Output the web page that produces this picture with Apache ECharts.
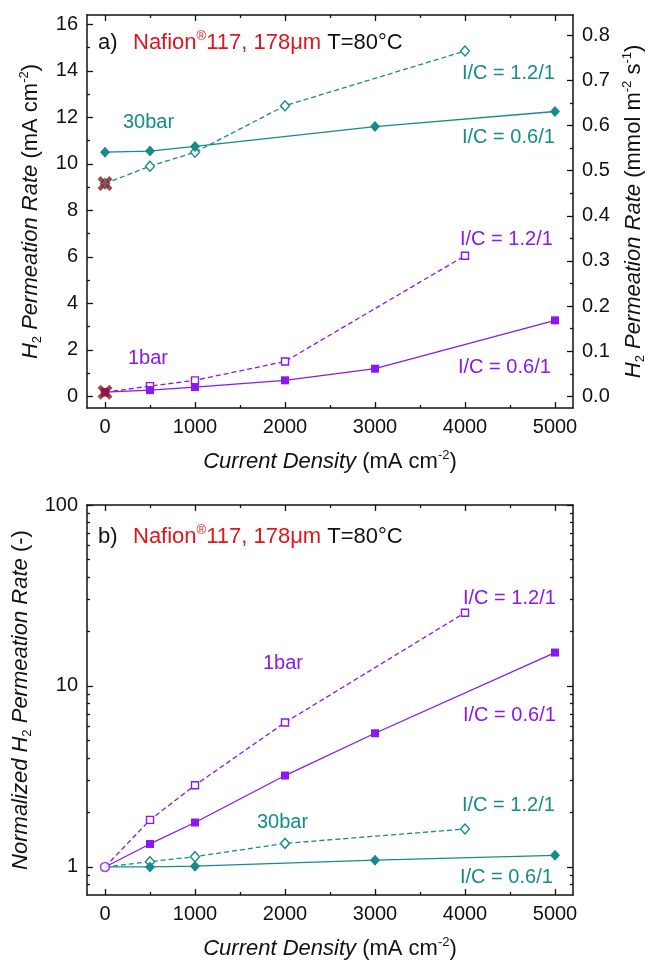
<!DOCTYPE html>
<html>
<head>
<meta charset="utf-8">
<script src="https://cdn.jsdelivr.net/npm/echarts@6/dist/echarts.min.js"></script>
<style>
  html, body { margin: 0; padding: 0; background: #fff; }
  #chart { width: 650px; height: 962px; }
</style>
</head>
<body>
<div id="chart"></div>
<script>
// ---- data -------------------------------------------------------------
// current density (mA cm^-2) of each measurement series
const xHigh06 = [0, 500, 1000, 3000, 5000];
const xHigh12 = [0, 500, 1000, 2000, 4000];
const xLow06  = [0, 500, 1000, 2000, 3000, 5000];
const xLow12  = [0, 500, 1000, 2000, 4000];

// absolute H2 permeation rate (mA cm^-2)
const rateHigh06 = [10.5, 10.55, 10.75, 11.6, 12.25];
const rateHigh12 = [9.15, 9.9, 10.5, 12.5, 14.85];
const rateLow06  = [0.18, 0.27, 0.4, 0.69, 1.19, 3.27];
const rateLow12  = [0.18, 0.44, 0.69, 1.5, 6.05];

// permeation at zero current (30 bar, 1 bar)
const xZero    = [0, 0];
const rateZero = [9.15, 0.18];

// permeation rate normalized to the zero-current value
const normHigh06 = [1, 1.0, 1.01, 1.09, 1.16];
const normHigh12 = [1, 1.07, 1.14, 1.35, 1.62];
const normLow06  = [1, 1.34, 1.76, 3.2, 5.48, 15.3];
const normLow12  = [1, 1.82, 2.83, 6.28, 25.4];

// tick values
const xTicks         = [0, 1000, 2000, 3000, 4000, 5000];
const xMinorTicks    = [500, 1500, 2500, 3500, 4500];
const rateTicks      = [0, 2, 4, 6, 8, 10, 12, 14, 16];
const rateMinorTicks = [1, 3, 5, 7, 9, 11, 13, 15];
const molTicks       = [0, 0.1, 0.2, 0.3, 0.4, 0.5, 0.6, 0.7, 0.8];
const molMinorTicks  = [0.05, 0.15, 0.25, 0.35, 0.45, 0.55, 0.65, 0.75];
const normTicks      = [1, 10, 100];
const normMinorTicks = [0.8, 0.9, 2, 3, 4, 5, 6, 7, 8, 9, 20, 30, 40, 50, 60, 70, 80, 90];

// ---- scales & styles ----------------------------------------------------
const X_MIN = -200, X_MAX = 5200;
const RATE_MIN = -0.5, RATE_MAX = 16.4;
const MOL_PER_MA = 0.0515;          // 1 mA cm^-2 of H2 in mmol m^-2 s^-1
const NORM_MIN = 0.7, NORM_MAX = 100;

const FONT = '"Liberation Sans", Arial, Helvetica, sans-serif';
const INK = '#111';
const TEAL = '#178a8a';
const VIOLET = '#8a18f0';
const RED = '#e3141c';
const CROSS = '#8b1b1b';

const frameLine = { show: true, onZero: false, lineStyle: { color: INK, width: 1.5 } };
const tickLine = { color: INK, width: 1.3 };
const tickFont = { fontSize: 20, color: INK, fontFamily: FONT };

const nameRich = {
  i:   { fontStyle: 'italic', fontSize: 22, fontFamily: FONT, color: INK, lineHeight: 26 },
  n:   { fontSize: 22, fontFamily: FONT, color: INK, lineHeight: 26 },
  sup: { fontSize: 13, fontFamily: FONT, color: INK, lineHeight: 13, verticalAlign: 'top' },
  sub: { fontSize: 13, fontFamily: FONT, color: INK, lineHeight: 13, verticalAlign: 'bottom' }
};
const nameStyle = { rich: nameRich, fontFamily: FONT, fontSize: 22, color: INK };

// one frame side = a labelled axis carrying major ticks + a bare axis for minor ticks
function side(grid, position, range, major, minor, extra) {
  const base = Object.assign({
    type: 'value', gridIndex: grid, position: position,
    min: range[0], max: range[1], splitLine: { show: false }
  }, extra.base || {});
  const main = Object.assign({}, base, {
    axisLine: frameLine,
    axisTick: { inside: true, length: 6, customValues: major, lineStyle: tickLine },
    axisLabel: extra.label
      ? Object.assign({ customValues: major, margin: 9 }, tickFont, extra.label)
      : { show: false }
  }, extra.name || {});
  const sub = Object.assign({}, base, {
    axisLine: { show: false, onZero: false },
    axisTick: { inside: true, length: 3, customValues: minor, lineStyle: tickLine },
    axisLabel: { show: false }
  });
  return [main, sub];
}

const xName = {
  name: '{i|Current Density}{n| (mA cm}{sup|-2}{n|)}',
  nameLocation: 'middle', nameGap: 41, nameTextStyle: nameStyle
};

const xAxes = [];
[0, 1].forEach(g => {
  xAxes.push(...side(g, 'bottom', [X_MIN, X_MAX], xTicks, xMinorTicks,
    { label: { formatter: v => String(v) }, name: xName }));
  xAxes.push(...side(g, 'top', [X_MIN, X_MAX], xTicks, xMinorTicks, {}));
});
// indices: grid0 bottom = 0, grid1 bottom = 4

const yAxes = [
  ...side(0, 'left', [RATE_MIN, RATE_MAX], rateTicks, rateMinorTicks, {
    label: { formatter: v => String(v) },
    name: {
      name: '{i|H}{sub|2}{i| Permeation Rate}{n| (mA cm}{sup|-2}{n|)}',
      nameLocation: 'middle', nameRotate: 90, nameGap: 43, nameTextStyle: nameStyle
    }
  }),
  ...side(0, 'right', [RATE_MIN * MOL_PER_MA, RATE_MAX * MOL_PER_MA], molTicks, molMinorTicks, {
    label: { formatter: v => v.toFixed(1) },
    name: {
      name: '{i|H}{sub|2}{i| Permeation Rate}{n| (mmol m}{sup|-2}{n| s}{sup|-1}{n|)}',
      nameLocation: 'middle', nameRotate: 90, nameGap: 46, nameTextStyle: nameStyle
    }
  }),
  ...side(1, 'left', [NORM_MIN, NORM_MAX], normTicks, normMinorTicks, {
    base: { type: 'log', logBase: 10 },
    label: { formatter: v => String(Math.round(v)) },
    name: {
      name: '{i|Normalized H}{sub|2}{i| Permeation Rate}{n| (-)}',
      nameLocation: 'middle', nameRotate: 90, nameGap: 43, nameTextStyle: nameStyle
    }
  }),
  ...side(1, 'right', [NORM_MIN, NORM_MAX], normTicks, normMinorTicks, {
    base: { type: 'log', logBase: 10 }
  })
];
// indices: grid0 left = 0, grid1 left = 4

// ---- series -------------------------------------------------------------
const pairs = (xs, ys, hideFirst) => xs.map((x, i) =>
  (hideFirst && i === 0) ? { value: [x, ys[i]], symbol: 'none' } : [x, ys[i]]);

function curve(xs, ys, color, filled, dashed, symbol, size, xi, yi, hideFirst) {
  return {
    type: 'line', xAxisIndex: xi, yAxisIndex: yi,
    data: pairs(xs, ys, hideFirst),
    symbol: symbol, symbolSize: size,
    lineStyle: { color: color, width: 1.3, type: dashed ? [5, 3] : 'solid' },
    itemStyle: filled
      ? { color: color }
      : { color: '#fff', borderColor: color, borderWidth: 1.4 },
    z: filled ? 3 : 2,
    animation: false
  };
}

// bold "x" marker for the zero-current points
const crossPath = 'path://M3,0 L7,4 L11,0 L14,3 L10,7 L14,11 L11,14 L7,10 L3,14 L0,11 L4,7 L0,3 Z';

const series = [
  // (a) absolute rates
  curve(xHigh12, rateHigh12, TEAL, false, true, 'diamond', [9, 10], 0, 0),
  curve(xHigh06, rateHigh06, TEAL, true, false, 'diamond', [10, 11], 0, 0),
  curve(xLow12, rateLow12, VIOLET, false, true, 'rect', 7, 0, 0),
  curve(xLow06, rateLow06, VIOLET, true, false, 'rect', 8, 0, 0),
  {
    type: 'scatter', xAxisIndex: 0, yAxisIndex: 0,
    data: pairs(xZero, rateZero), symbol: crossPath, symbolSize: 15,
    itemStyle: { color: CROSS }, z: 6, animation: false
  },
  // (b) normalized rates
  curve(xHigh12, normHigh12, TEAL, false, true, 'diamond', [9, 10], 4, 4, true),
  curve(xHigh06, normHigh06, TEAL, true, false, 'diamond', [10, 11], 4, 4, true),
  curve(xLow12, normLow12, VIOLET, false, true, 'rect', 7, 4, 4, true),
  curve(xLow06, normLow06, VIOLET, true, false, 'rect', 8, 4, 4, true),
  {
    type: 'scatter', xAxisIndex: 4, yAxisIndex: 4,
    data: [[xLow12[0], normLow12[0]]], symbol: 'circle', symbolSize: 9,
    itemStyle: { color: '#fff', borderColor: VIOLET, borderWidth: 1.6 },
    z: 6, animation: false
  }
];

// ---- annotations -----------------------------------------------------------
function note(text, x, y, color) {
  return {
    type: 'text', x: x, y: y, z: 10,
    style: { text: text, fill: color, fontSize: 20, fontFamily: FONT, verticalAlign: 'middle' }
  };
}
const titleRich = {
  r:  { fill: RED, fontSize: 22, fontFamily: FONT, lineHeight: 26 },
  rs: { fill: RED, fontSize: 13, fontFamily: FONT, lineHeight: 13, verticalAlign: 'top' },
  k:  { fill: INK, fontSize: 22, fontFamily: FONT, lineHeight: 26 }
};
function title(tag, y) {
  return [
    { type: 'text', x: 98, y: y, z: 10,
      style: { text: tag, fill: INK, fontSize: 22, fontFamily: FONT, verticalAlign: 'middle' } },
    { type: 'text', x: 133, y: y, z: 10,
      style: { text: '{r|Nafion}{rs|®}{r|117, 178μm}{k| T=80°C}', rich: titleRich, verticalAlign: 'middle' } }
  ];
}

const graphics = [
  ...title('a)', 43),
  note('30bar', 123, 122, TEAL),
  note('I/C = 1.2/1', 462, 73, TEAL),
  note('I/C = 0.6/1', 462, 137, TEAL),
  note('1bar', 128, 358, VIOLET),
  note('I/C = 1.2/1', 460, 239, VIOLET),
  note('I/C = 0.6/1', 458, 367, VIOLET),

  ...title('b)', 537),
  note('I/C = 1.2/1', 463, 598, VIOLET),
  note('1bar', 263, 663, VIOLET),
  note('I/C = 0.6/1', 463, 715, VIOLET),
  note('I/C = 1.2/1', 462, 805, TEAL),
  note('30bar', 257, 822, TEAL),
  note('I/C = 0.6/1', 460, 877, TEAL)
];

const chart = echarts.init(document.getElementById('chart'), null, { renderer: 'canvas' });
chart.setOption({
  backgroundColor: '#fff',
  animation: false,
  grid: [
    { left: 87, right: 77, top: 15, height: 393, outerBoundsMode: 'none', containLabel: false },
    { left: 87, right: 77, top: 505, height: 390, outerBoundsMode: 'none', containLabel: false }
  ],
  xAxis: xAxes,
  yAxis: yAxes,
  series: series,
  graphic: { elements: graphics }
});
</script>
</body>
</html>
